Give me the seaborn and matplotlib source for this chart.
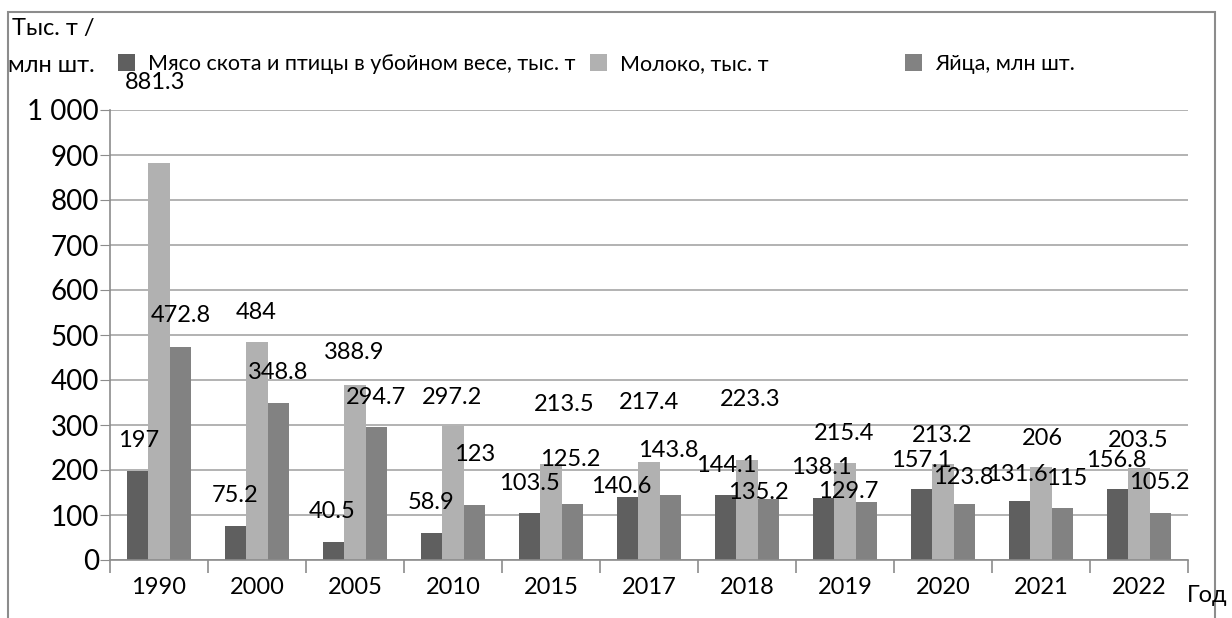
import matplotlib
matplotlib.use("Agg")
import matplotlib.pyplot as plt
from matplotlib.patches import Rectangle
from matplotlib.ticker import FixedLocator, FuncFormatter
import pandas as pd
import seaborn as sns

years = ["1990", "2000", "2005", "2010", "2015", "2017", "2018", "2019", "2020", "2021", "2022"]
meat = [197, 75.2, 40.5, 58.9, 103.5, 140.6, 144.1, 138.1, 157.1, 131.6, 156.8]
milk = [881.3, 484, 388.9, 297.2, 213.5, 217.4, 223.3, 215.4, 213.2, 206, 203.5]
eggs = [472.8, 348.8, 294.7, 123, 125.2, 143.8, 135.2, 129.7, 123.8, 115, 105.2]
series_names = ["Мясо скота и птицы в убойном весе, тыс. т", "Молоко, тыс. т", "Яйца, млн шт."]

# label placement as in the source (pixel shift from the bar top centre)
meat_dx = [1, 0, -1, 0, 0, -6, 1, -2, 0, -2, -1]
meat_dy = [31, 31, 30, 31, 30, 10, 30, 30, 29, 26, 29]
milk_dx = [-4, -1, -1, -1, 13, 0, 3, -1, -1, 1, -1]
milk_dy = [81, 30, 32, 29, 59, 60, 60, 30, 29, 29, 28]
eggs_dx = [0, 0, -1, 0, -2, -2, -10, -18, -1, 4, -1]
eggs_dy = [32, 31, 30, 50, 44, 45, 7, 10, 27, 30, 30]

df = pd.DataFrame({
    "year": years * 3,
    "value": meat + milk + eggs,
    "series": [series_names[0]] * len(years) + [series_names[1]] * len(years) + [series_names[2]] * len(years),
})
colors = ["#5f5f5f", "#b1b1b1", "#828282"]

plt.rcParams["font.family"] = ["Lato", "DejaVu Sans"]
fig = plt.figure(figsize=(12.32, 6.18), dpi=100)
ax = fig.add_axes([110 / 1232, 58 / 618, 1078 / 1232, 450 / 618])

sns.barplot(data=df, x="year", y="value", hue="series", order=years, hue_order=series_names,
            palette=colors, width=0.66, gap=0, saturation=1, ax=ax, legend=True)

ax.set_ylim(0, 1000)
ax.set_xlim(-0.5, len(years) - 0.5)
ax.set_yticks(range(0, 1001, 100))
ax.yaxis.set_major_formatter(FuncFormatter(lambda v, p: f"{int(v):,}".replace(",", " ")))
ax.grid(axis="y", color="#a6a6a6", linewidth=1.2)
ax.set_axisbelow(True)
ax.set_xlabel("")
ax.set_ylabel("")
for s in ["top", "right"]:
    ax.spines[s].set_visible(False)
for s in ["left", "bottom"]:
    ax.spines[s].set_color("#8c8c8c")
    ax.spines[s].set_linewidth(1.2)
ax.tick_params(axis="y", labelsize=20, length=7, color="#8c8c8c", pad=1)
ax.tick_params(axis="x", which="major", labelsize=17, length=0, pad=12)
ax.xaxis.set_minor_locator(FixedLocator([i - 0.5 for i in range(len(years) + 1)]))
ax.tick_params(axis="x", which="minor", length=9, color="#8c8c8c", width=1.2)

handles, labels = ax.get_legend_handles_labels()
ax.get_legend().remove()

# value labels
groups = [(meat, meat_dy, meat_dx), (milk, milk_dy, milk_dx), (eggs, eggs_dy, eggs_dx)]
for container, (vals, dys, dxs) in zip(ax.containers, groups):
    for bar, v, dy, dx in zip(container, vals, dys, dxs):
        ax.annotate(f"{v:g}", (bar.get_x() + bar.get_width() / 2, v),
                    xytext=(dx * 0.72, dy * 0.72), textcoords="offset points",
                    ha="center", va="center", fontsize=17, annotation_clip=False)

# legend entries spread like the source
legend_x = [118, 590, 905]
for h, lab, x in zip(handles, labels, legend_x):
    fig.legend([h], [lab], loc="center left", bbox_to_anchor=(x / 1232, 1 - 64 / 618),
               frameon=False, fontsize=15.5, handlelength=0.8, handleheight=0.8,
               handletextpad=0.6, borderaxespad=0, borderpad=0)

fig.text(12 / 1232, 1 - 28 / 618, "Тыс. т /", fontsize=17, va="center", ha="left")
fig.text(8 / 1232, 1 - 65 / 618, "млн шт.", fontsize=17, va="center", ha="left")
fig.text(1187 / 1232, 1 - 596 / 618, "Год", fontsize=17, va="center", ha="left")

fig.patches.append(Rectangle((8 / 1232, -0.05), 1207 / 1232, 1.05 - 12 / 618,
                             transform=fig.transFigure, fill=False,
                             edgecolor="#8c8c8c", linewidth=1.5))

fig.savefig("out.png", dpi=100)
